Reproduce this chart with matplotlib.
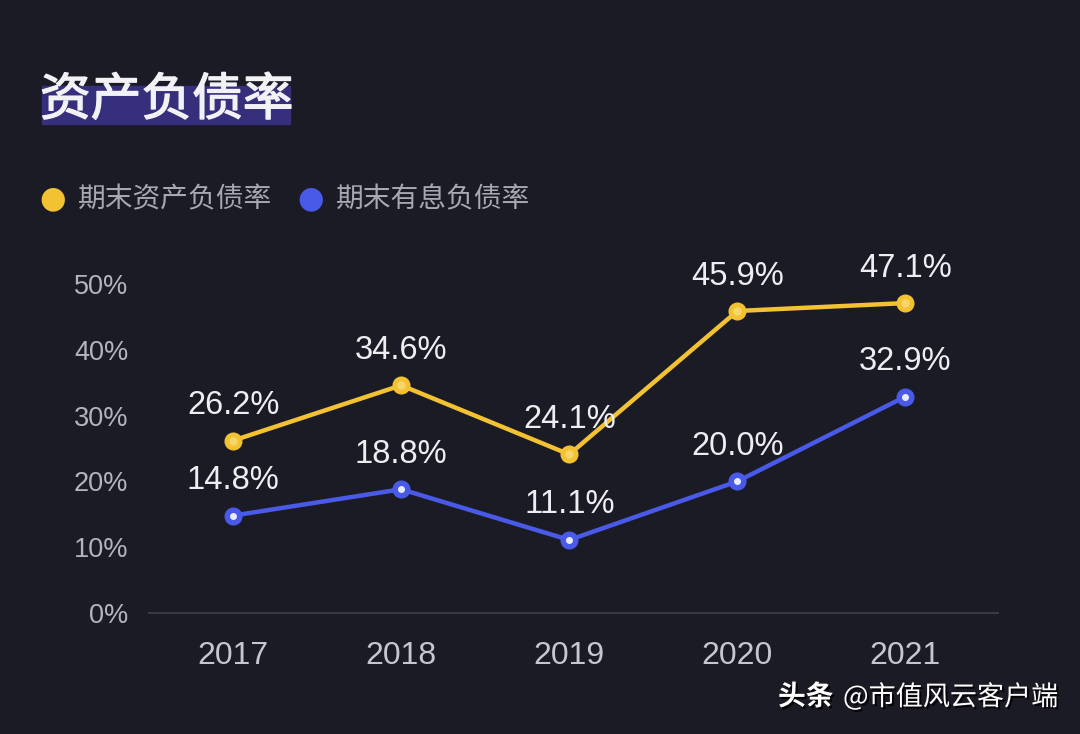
import matplotlib.pyplot as plt
from matplotlib.patches import Rectangle
import matplotlib.patheffects as pe

years = ["2017", "2018", "2019", "2020", "2021"]
asset_ratio = [26.2, 34.6, 24.1, 45.9, 47.1]
interest_ratio = [14.8, 18.8, 11.1, 20.0, 32.9]
yticks = [0, 10, 20, 30, 40, 50]

bg = "#1b1b25"
yellow = "#f2c233"
blue = "#4a5ae8"

plt.rcParams['font.family'] = ['Liberation Sans', 'Noto Sans CJK SC', 'DejaVu Sans']
cjk = ['Noto Sans CJK SC', 'DejaVu Sans']

fig = plt.figure(figsize=(10.8, 7.34), dpi=100, facecolor=bg)
ax = fig.add_axes([0.138, 0.1649, 0.786, 0.493], facecolor=bg)

x = list(range(len(years)))
ax.plot(x, asset_ratio, color=yellow, lw=3.2, marker="o", ms=12, zorder=3)
ax.plot(x, asset_ratio, ls="none", marker="o", ms=5, color="#f7d66a", zorder=4)
ax.plot(x, interest_ratio, color=blue, lw=3.2, marker="o", ms=12, zorder=3)
ax.plot(x, interest_ratio, ls="none", marker="o", ms=4, color="#e8ecff", zorder=4)

for xi, v in zip(x, asset_ratio):
    ax.annotate(f"{v:.1f}%", (xi, v), xytext=(0, 14), textcoords="offset points",
                ha="center", va="bottom", color="#eeeef2", fontsize=23.5)
for xi, v in zip(x, interest_ratio):
    ax.annotate(f"{v:.1f}%", (xi, v), xytext=(0, 14), textcoords="offset points",
                ha="center", va="bottom", color="#eeeef2", fontsize=23.5)

ax.set_xlim(-0.5, 4.55)
ax.set_ylim(0, 55)
ax.set_xticks(x)
ax.set_xticklabels(years, fontsize=23, color="#c6c6ce")
ax.set_yticks(yticks)
ax.set_yticklabels([f"{t}%" for t in yticks], fontsize=19.5, color="#b4b4bc")
ax.tick_params(axis="both", length=0)
ax.tick_params(axis="x", pad=20)
ax.tick_params(axis="y", pad=15)
for s in ["top", "right", "left"]:
    ax.spines[s].set_visible(False)
ax.spines["bottom"].set_color("#3a3a46")
ax.spines["bottom"].set_linewidth(1.5)

# title with highlight box
fig.patches.append(Rectangle((42 / 1080, 1 - 124 / 734), 248 / 1080, 38 / 734,
                             transform=fig.transFigure, color="#352f7c", zorder=0))
fig.text(40 / 1080, 1 - 101 / 734, "资产负债率", family=cjk, fontsize=36.5,
         color="#f2f2f6", va="center", ha="left", zorder=2,
         path_effects=[pe.withStroke(linewidth=1.0, foreground="#f2f2f6")])

# legend
fig.text(53 / 1080, 1 - 199 / 734, "●", family=['DejaVu Sans'], fontsize=22,
         color=yellow, ha="center", va="center")
fig.text(78 / 1080, 1 - 199 / 734, "期末资产负债率", family=cjk, fontsize=20,
         color="#a8a8b2", ha="left", va="center")
fig.text(311 / 1080, 1 - 199 / 734, "●", family=['DejaVu Sans'], fontsize=22,
         color=blue, ha="center", va="center")
fig.text(336 / 1080, 1 - 199 / 734, "期末有息负债率", family=cjk, fontsize=20,
         color="#a8a8b2", ha="left", va="center")

# watermark
shadow = [pe.withSimplePatchShadow(offset=(1.5, -1.5), shadow_rgbFace="black", alpha=0.8)]
fig.text(778 / 1080, 1 - 697 / 734, "头条", family=cjk, fontsize=20, fontweight="bold",
         color="white", ha="left", va="center", path_effects=shadow)
fig.text(843 / 1080, 1 - 697 / 734, "@市值风云客户端", family=cjk, fontsize=19.5,
         color="white", ha="left", va="center", path_effects=shadow)

fig.savefig("out.png", dpi=100, facecolor=bg)
